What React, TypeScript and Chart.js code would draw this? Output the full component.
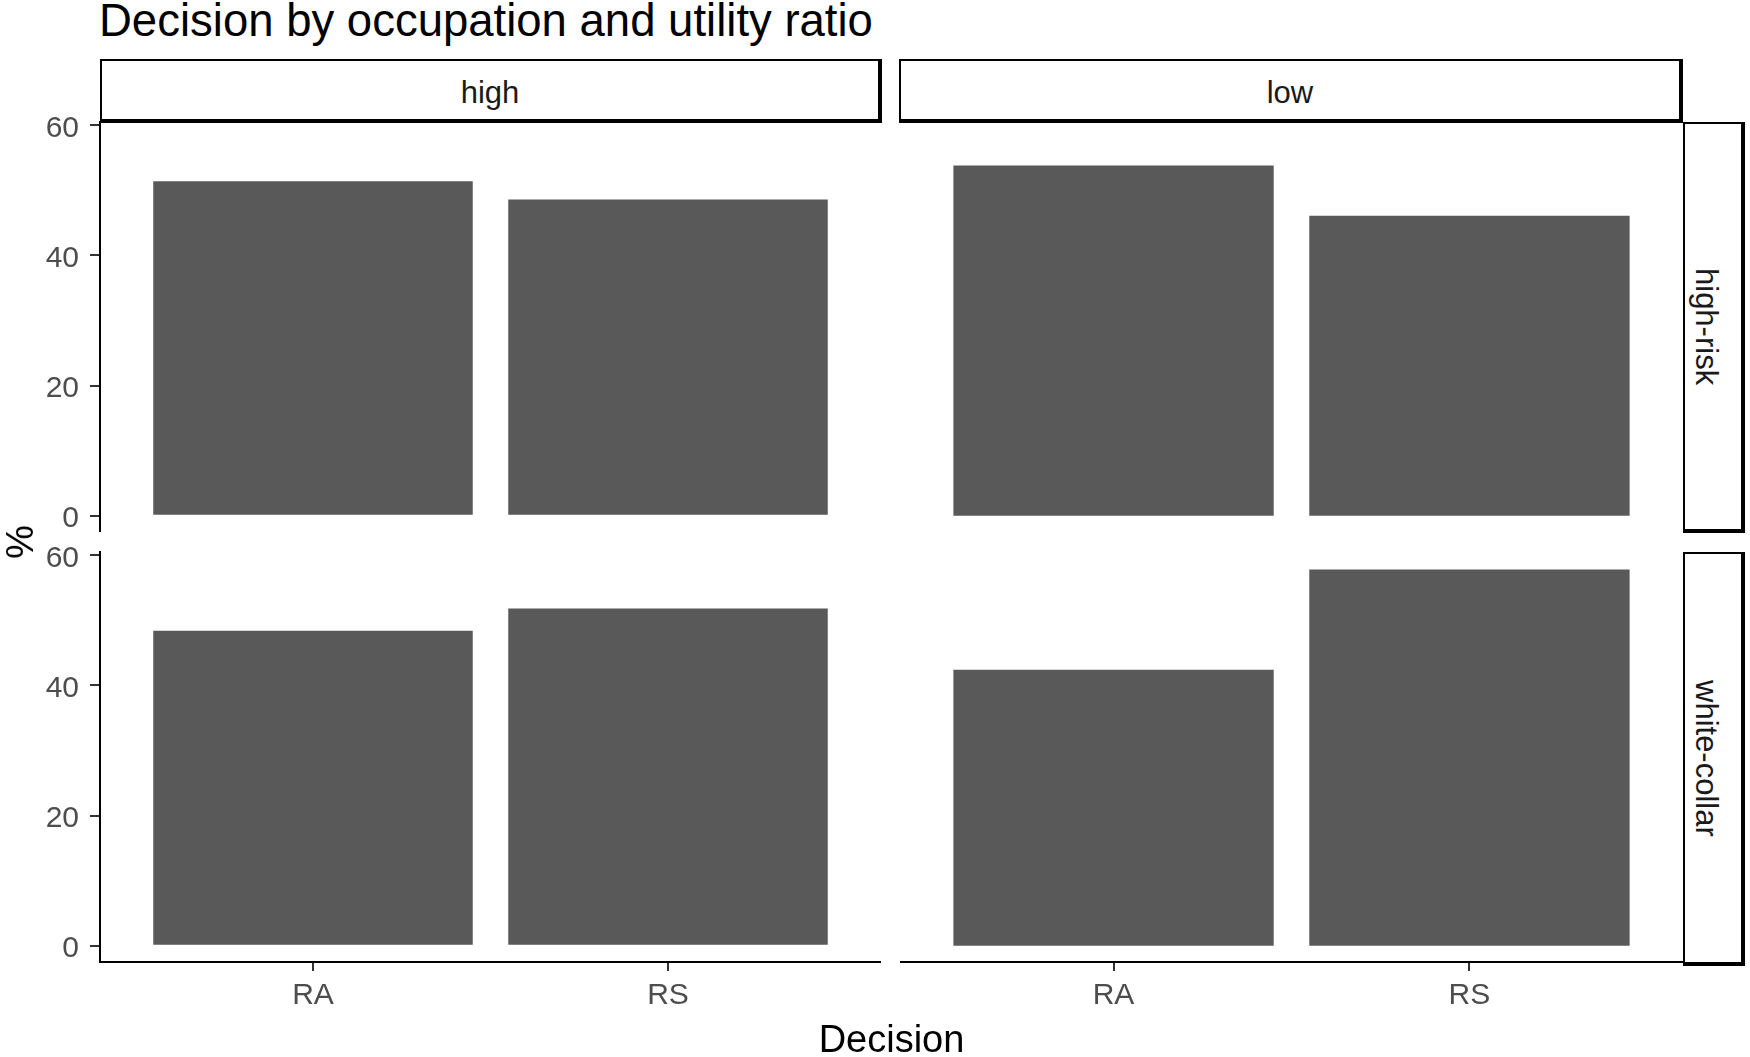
import { useEffect, useRef } from 'react';
import { Chart, registerables } from 'chart.js';

Chart.register(...registerables);

// data
const decisions = ['RA', 'RS'];
const ratioLevels = ['high', 'low'];
const occupations = ['high-risk', 'white-collar'];
const highRiskHighRatio = [51.4, 48.6];
const highRiskLowRatio = [53.8, 46.1];
const whiteCollarHighRatio = [48.4, 51.8];
const whiteCollarLowRatio = [42.4, 57.8];
const yTicks = [0, 20, 40, 60];

const FONT = '"Liberation Sans", Arial, Helvetica, sans-serif';
const TOP_ROOM = 24; // space above the panel so the "60" label isn't clipped

interface PanelProps {
  values: number[];
  left: number;
  top: number;
  width: number;
  height: number;
  showY: boolean;
  showX: boolean;
}

function FacetPanel({ values, left, top, width, height, showY, showX }: PanelProps) {
  const canvasRef = useRef<HTMLCanvasElement>(null);

  useEffect(() => {
    if (!canvasRef.current) return;

    const chart = new Chart(canvasRef.current, {
      type: 'bar',
      data: {
        datasets: [
          {
            data: values.map((v, i) => ({ x: i + 1, y: v })),
            backgroundColor: '#595959',
            borderWidth: 0,
            barPercentage: 0.9,
            categoryPercentage: 1,
          },
        ],
      },
      options: {
        responsive: true,
        maintainAspectRatio: false,
        animation: false,
        layout: { padding: { top: TOP_ROOM, left: 0, right: 0, bottom: 0 } },
        plugins: {
          legend: { display: false },
          tooltip: { enabled: false },
          title: { display: false },
        },
        scales: {
          x: {
            type: 'linear',
            display: showX,
            min: 0.4,
            max: 2.6,
            offset: false,
            afterBuildTicks: (scale: any) => {
              scale.ticks = decisions.map((_, i) => ({ value: i + 1 }));
            },
            afterFit: (scale: any) => {
              scale.height = showX ? 53 : 0;
              scale.paddingLeft = 0;
              scale.paddingRight = 0;
            },
            ticks: {
              callback: (v: any) => decisions[Number(v) - 1] ?? '',
              font: { family: FONT, size: 30 },
              color: '#4D4D4D',
              padding: 7,
              maxRotation: 0,
              autoSkip: false,
            },
            grid: {
              display: true,
              offset: false,
              drawOnChartArea: false,
              tickLength: 9,
              color: '#333333',
              lineWidth: 2,
            },
            border: { display: true, color: '#000000', width: 2 },
          },
          y: {
            type: 'linear',
            display: showY,
            min: -2.5,
            max: 60.5,
            afterBuildTicks: (scale: any) => {
              scale.ticks = yTicks.map((v) => ({ value: v }));
            },
            afterFit: (scale: any) => {
              scale.width = showY ? 100 : 0;
              scale.paddingTop = 0;
              scale.paddingBottom = 0;
            },
            ticks: {
              font: { family: FONT, size: 30 },
              color: '#4D4D4D',
              padding: 11,
              labelOffset: 3,
            },
            grid: {
              display: true,
              drawOnChartArea: false,
              tickLength: 10,
              color: '#333333',
              lineWidth: 2,
            },
            border: { display: true, color: '#000000', width: 2 },
          },
        },
      },
    });

    return () => {
      chart.destroy();
    };
  }, [values, showX, showY]);

  return (
    <div style={{ position: 'absolute', left, top: top - TOP_ROOM, width, height: height + TOP_ROOM }}>
      <canvas ref={canvasRef}></canvas>
    </div>
  );
}

const stripText: React.CSSProperties = {
  position: 'absolute',
  boxSizing: 'border-box',
  borderStyle: 'solid',
  borderColor: '#000000',
  borderWidth: '2px 4px 4px 2px',
  background: '#ffffff',
  display: 'flex',
  alignItems: 'center',
  justifyContent: 'center',
  fontFamily: FONT,
  fontSize: 31,
  lineHeight: 1,
  color: '#1A1A1A',
};

export default function App() {
  return (
    <div
      style={{
        position: 'absolute',
        left: 0,
        top: 0,
        width: 1750,
        height: 1057,
        background: '#ffffff',
        fontFamily: FONT,
        overflow: 'hidden',
      }}
    >
      <div
        style={{
          position: 'absolute',
          left: 99,
          top: -2,
          fontSize: 45.5,
          lineHeight: '45px',
          color: '#000000',
          whiteSpace: 'nowrap',
        }}
      >
        Decision by occupation and utility ratio
      </div>

      {/* column strips */}
      <div style={{ ...stripText, left: 100, top: 59, width: 782, height: 64, paddingTop: 5 }}>{ratioLevels[0]}</div>
      <div style={{ ...stripText, left: 899, top: 59, width: 784, height: 64, paddingTop: 5 }}>{ratioLevels[1]}</div>

      {/* row strips */}
      <div
        style={{ ...stripText, left: 1683, top: 122, width: 62, height: 411, writingMode: 'vertical-rl', paddingRight: 14 }}
      >
        {occupations[0]}
      </div>
      <div
        style={{ ...stripText, left: 1683, top: 552, width: 62, height: 414, writingMode: 'vertical-rl', paddingRight: 14 }}
      >
        {occupations[1]}
      </div>

      <FacetPanel values={highRiskHighRatio} left={0} top={122} width={881} height={410} showY={true} showX={false} />
      <FacetPanel values={highRiskLowRatio} left={900} top={122} width={783} height={410} showY={false} showX={false} />
      <FacetPanel values={whiteCollarHighRatio} left={0} top={552} width={881} height={463} showY={true} showX={true} />
      <FacetPanel values={whiteCollarLowRatio} left={900} top={552} width={783} height={463} showY={false} showX={true} />

      <div
        style={{
          position: 'absolute',
          left: 20,
          top: 542,
          transform: 'translate(-50%, -50%) rotate(-90deg)',
          fontSize: 38,
          lineHeight: 1,
          color: '#000000',
          whiteSpace: 'nowrap',
        }}
      >
        %
      </div>
      <div
        style={{
          position: 'absolute',
          left: 100,
          width: 1583,
          top: 1020,
          textAlign: 'center',
          fontSize: 38,
          lineHeight: '38px',
          color: '#000000',
        }}
      >
        Decision
      </div>
    </div>
  );
}
